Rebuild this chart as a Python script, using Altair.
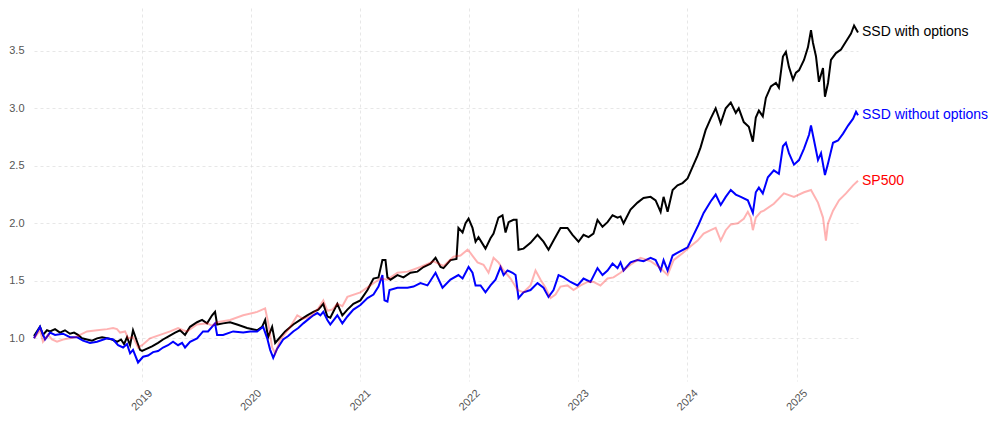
import altair as alt
import pandas as pd
import numpy as np

# ---------------- data (decimal years, cumulative growth) ----------------
black_t = [2018.012, 2018.067, 2018.094, 2018.131, 2018.159, 2018.205, 2018.25, 2018.296, 2018.342, 2018.379,
           2018.416, 2018.452, 2018.498, 2018.544, 2018.59, 2018.636, 2018.682, 2018.728, 2018.773, 2018.81,
           2018.838, 2018.865, 2018.893, 2018.92, 2018.939, 2018.957, 2018.984, 2019.003, 2019.049, 2019.094,
           2019.15, 2019.195, 2019.25, 2019.306, 2019.351, 2019.397, 2019.443, 2019.507, 2019.553, 2019.599,
           2019.645, 2019.672, 2019.691, 2019.746, 2019.81, 2019.874, 2019.966, 2020.058, 2020.103, 2020.131,
           2020.158, 2020.195, 2020.223, 2020.25, 2020.314, 2020.388, 2020.452, 2020.516, 2020.572, 2020.617,
           2020.663, 2020.7, 2020.727, 2020.791, 2020.837, 2020.883, 2020.938, 2021.002, 2021.067, 2021.122,
           2021.168, 2021.204, 2021.232, 2021.25, 2021.278, 2021.342, 2021.397, 2021.461, 2021.525, 2021.58,
           2021.645, 2021.691, 2021.737, 2021.764, 2021.828, 2021.883, 2021.901, 2021.939, 2021.966, 2021.994,
           2022.03, 2022.058, 2022.085, 2022.149, 2022.195, 2022.223, 2022.268, 2022.305, 2022.333, 2022.361,
           2022.406, 2022.434, 2022.452, 2022.498, 2022.562, 2022.626, 2022.681, 2022.727, 2022.773, 2022.837,
           2022.901, 2022.947, 2023.002, 2023.048, 2023.094, 2023.139, 2023.176, 2023.222, 2023.268, 2023.314,
           2023.36, 2023.387, 2023.415, 2023.479, 2023.543, 2023.598, 2023.663, 2023.709, 2023.755, 2023.782,
           2023.819, 2023.865, 2023.91, 2023.956, 2024.002, 2024.048, 2024.094, 2024.121, 2024.167, 2024.213,
           2024.259, 2024.305, 2024.351, 2024.397, 2024.443, 2024.47, 2024.516, 2024.562, 2024.599, 2024.626,
           2024.654, 2024.69, 2024.718, 2024.764, 2024.81, 2024.837, 2024.874, 2024.901, 2024.929, 2024.966,
           2024.993, 2025.021, 2025.067, 2025.103, 2025.131, 2025.149, 2025.177, 2025.204, 2025.241, 2025.259,
           2025.287, 2025.314, 2025.36, 2025.406, 2025.452, 2025.498, 2025.526, 2025.562]
black_v = [1.02, 1.10, 1.03, 1.07, 1.06, 1.08, 1.05, 1.07, 1.04, 1.05,
           1.03, 1.00, 0.99, 0.98, 1.00, 1.01, 1.00, 0.99, 0.97, 0.99,
           0.95, 1.01, 0.94, 1.07, 1.02, 0.97, 0.90, 0.89, 0.91, 0.93,
           0.96, 0.99, 1.02, 1.05, 1.07, 1.03, 1.10, 1.14, 1.16, 1.13,
           1.20, 1.23, 1.12, 1.13, 1.14, 1.12, 1.09, 1.07, 1.10, 1.16,
           1.01, 1.10, 0.96, 0.99, 1.06, 1.12, 1.16, 1.20, 1.23, 1.25,
           1.30, 1.19, 1.18, 1.30, 1.20, 1.25, 1.30, 1.33, 1.42, 1.52,
           1.53, 1.68, 1.68, 1.53, 1.51, 1.55, 1.53, 1.57, 1.58, 1.62,
           1.65, 1.70, 1.62, 1.61, 1.68, 1.69, 1.96, 1.92, 2.00, 2.04,
           1.96, 1.84, 1.88, 1.78, 1.87, 1.91, 2.05, 2.07, 1.92, 2.01,
           2.03, 2.03, 1.77, 1.78, 1.83, 1.90, 1.84, 1.77, 1.85, 1.96,
           1.96, 1.90, 1.84, 1.90, 1.88, 1.91, 2.03, 1.97, 2.01, 2.07,
           2.05, 2.06, 2.00, 2.12, 2.18, 2.22, 2.23, 2.20, 2.10, 2.23,
           2.10, 2.29, 2.33, 2.35, 2.39, 2.49, 2.59, 2.66, 2.81, 2.91,
           3.00, 2.87, 3.00, 3.05, 2.96, 3.00, 2.88, 2.84, 2.71, 2.92,
           2.98, 2.93, 3.09, 3.19, 3.22, 3.18, 3.45, 3.49, 3.36, 3.25,
           3.31, 3.33, 3.42, 3.53, 3.68, 3.57, 3.45, 3.23, 3.35, 3.10,
           3.22, 3.42, 3.48, 3.51, 3.58, 3.65, 3.72, 3.66]

blue_t = [2018.012, 2018.067, 2018.113, 2018.159, 2018.205, 2018.278, 2018.342, 2018.406, 2018.461, 2018.526,
          2018.59, 2018.682, 2018.737, 2018.783, 2018.829, 2018.865, 2018.893, 2018.92, 2018.966, 2019.012,
          2019.058, 2019.104, 2019.15, 2019.195, 2019.241, 2019.287, 2019.333, 2019.37, 2019.397, 2019.443,
          2019.507, 2019.562, 2019.608, 2019.672, 2019.691, 2019.746, 2019.838, 2019.93, 2019.994, 2020.058,
          2020.113, 2020.15, 2020.177, 2020.205, 2020.241, 2020.296, 2020.342, 2020.388, 2020.434, 2020.48,
          2020.544, 2020.572, 2020.608, 2020.636, 2020.663, 2020.7, 2020.727, 2020.791, 2020.837, 2020.883,
          2020.938, 2021.002, 2021.067, 2021.122, 2021.168, 2021.204, 2021.223, 2021.25, 2021.269, 2021.342,
          2021.434, 2021.489, 2021.553, 2021.617, 2021.691, 2021.755, 2021.828, 2021.901, 2021.939, 2021.994,
          2022.03, 2022.058, 2022.104, 2022.149, 2022.195, 2022.241, 2022.287, 2022.315, 2022.351, 2022.397,
          2022.425, 2022.452, 2022.498, 2022.562, 2022.626, 2022.681, 2022.727, 2022.773, 2022.819, 2022.865,
          2022.929, 2022.993, 2023.048, 2023.112, 2023.176, 2023.222, 2023.268, 2023.314, 2023.36, 2023.387,
          2023.415, 2023.479, 2023.543, 2023.598, 2023.663, 2023.709, 2023.755, 2023.782, 2023.819, 2023.865,
          2023.92, 2024.002, 2024.057, 2024.103, 2024.149, 2024.213, 2024.259, 2024.305, 2024.351, 2024.397,
          2024.443, 2024.489, 2024.553, 2024.599, 2024.626, 2024.654, 2024.69, 2024.736, 2024.791, 2024.837,
          2024.874, 2024.901, 2024.929, 2024.975, 2025.021, 2025.067, 2025.113, 2025.131, 2025.159, 2025.195,
          2025.223, 2025.259, 2025.287, 2025.333, 2025.379, 2025.425, 2025.471, 2025.517, 2025.544, 2025.562]
blue_v = [1.00, 1.10, 0.99, 1.05, 1.03, 1.04, 1.01, 1.01, 0.98, 0.96,
          0.97, 1.00, 0.99, 0.94, 0.92, 0.95, 0.87, 0.90, 0.79, 0.84,
          0.85, 0.88, 0.89, 0.92, 0.94, 0.97, 0.94, 0.96, 0.92, 0.97,
          1.00, 1.06, 1.06, 1.13, 1.03, 1.03, 1.06, 1.05, 1.06, 1.06,
          1.10, 1.00, 0.90, 0.83, 0.91, 0.99, 1.02, 1.06, 1.09, 1.13,
          1.18, 1.20, 1.22, 1.20, 1.23, 1.16, 1.12, 1.20, 1.13, 1.19,
          1.25, 1.29, 1.35, 1.38, 1.45, 1.55, 1.33, 1.32, 1.42, 1.44,
          1.44, 1.45, 1.48, 1.46, 1.57, 1.44, 1.51, 1.55, 1.52, 1.62,
          1.57, 1.46, 1.46, 1.40, 1.46, 1.51, 1.62, 1.55, 1.59, 1.57,
          1.55, 1.35, 1.40, 1.42, 1.48, 1.44, 1.36, 1.42, 1.55, 1.53,
          1.49, 1.46, 1.52, 1.49, 1.61, 1.55, 1.59, 1.65, 1.61, 1.66,
          1.59, 1.66, 1.68, 1.67, 1.70, 1.68, 1.59, 1.68, 1.59, 1.72,
          1.75, 1.79, 1.90, 1.99, 2.09, 2.19, 2.25, 2.16, 2.23, 2.29,
          2.25, 2.23, 2.20, 2.09, 2.27, 2.31, 2.26, 2.40, 2.46, 2.43,
          2.67, 2.70, 2.61, 2.51, 2.55, 2.65, 2.77, 2.85, 2.72, 2.55,
          2.61, 2.42, 2.52, 2.70, 2.72, 2.78, 2.85, 2.91, 2.97, 2.94]

sp_t = [2018.012, 2018.067, 2018.094, 2018.14, 2018.177, 2018.223, 2018.278, 2018.342, 2018.388, 2018.434,
        2018.498, 2018.59, 2018.682, 2018.737, 2018.773, 2018.801, 2018.847, 2018.875, 2018.92, 2018.966,
        2019.003, 2019.076, 2019.168, 2019.26, 2019.333, 2019.379, 2019.415, 2019.461, 2019.507, 2019.599,
        2019.645, 2019.691, 2019.81, 2019.93, 2020.058, 2020.131, 2020.158, 2020.195, 2020.223, 2020.269,
        2020.314, 2020.361, 2020.425, 2020.48, 2020.544, 2020.617, 2020.663, 2020.7, 2020.746, 2020.791,
        2020.837, 2020.883, 2021.002, 2021.094, 2021.186, 2021.25, 2021.342, 2021.434, 2021.553, 2021.672,
        2021.764, 2021.856, 2021.92, 2021.985, 2022.012, 2022.076, 2022.131, 2022.177, 2022.223, 2022.268,
        2022.315, 2022.379, 2022.443, 2022.498, 2022.562, 2022.608, 2022.654, 2022.7, 2022.746, 2022.791,
        2022.837, 2022.901, 2022.956, 2023.021, 2023.085, 2023.139, 2023.203, 2023.268, 2023.323, 2023.387,
        2023.479, 2023.571, 2023.663, 2023.755, 2023.819, 2023.874, 2023.956, 2024.03, 2024.094, 2024.149,
        2024.213, 2024.259, 2024.305, 2024.351, 2024.397, 2024.461, 2024.516, 2024.553, 2024.58, 2024.599,
        2024.626, 2024.672, 2024.7, 2024.791, 2024.883, 2024.975, 2025.067, 2025.131, 2025.195, 2025.241,
        2025.268, 2025.287, 2025.333, 2025.388, 2025.452, 2025.517, 2025.562]
sp_v = [1.00, 1.07, 0.97, 1.03, 0.99, 0.97, 0.99, 1.00, 1.01, 1.03,
        1.06, 1.07, 1.08, 1.09, 1.08, 1.05, 1.06, 1.00, 1.01, 0.92,
        0.94, 1.00, 1.03, 1.06, 1.09, 1.07, 1.06, 1.09, 1.12, 1.13,
        1.11, 1.14, 1.16, 1.20, 1.23, 1.26, 1.14, 0.92, 0.87, 0.99,
        1.04, 1.10, 1.20, 1.17, 1.19, 1.26, 1.33, 1.24, 1.25, 1.30,
        1.28, 1.36, 1.40, 1.46, 1.52, 1.51, 1.57, 1.58, 1.62, 1.67,
        1.63, 1.71, 1.72, 1.77, 1.74, 1.66, 1.64, 1.57, 1.70, 1.66,
        1.59, 1.52, 1.42, 1.40, 1.46, 1.59, 1.51, 1.44, 1.35, 1.38,
        1.45, 1.46, 1.42, 1.46, 1.49, 1.49, 1.46, 1.52, 1.53, 1.57,
        1.64, 1.70, 1.67, 1.61, 1.55, 1.68, 1.74, 1.80, 1.85, 1.91,
        1.94, 1.96, 1.85, 1.94, 1.99, 2.00, 2.04, 2.10, 2.05, 1.94,
        2.05, 2.10, 2.11, 2.17, 2.26, 2.23, 2.27, 2.29, 2.18, 2.05,
        1.85, 2.00, 2.11, 2.20, 2.26, 2.33, 2.37]

series_names = ["SSD with options", "SSD without options", "SP500"]
line_colors = ["#000000", "#0000FF", "#FF0000"]
year_ticks = [2019, 2020, 2021, 2022, 2023, 2024, 2025]
y_ticks = [1.0, 1.5, 2.0, 2.5, 3.0, 3.5]


def to_ts(years):
    out = []
    for y in years:
        yi = int(np.floor(y))
        start = pd.Timestamp(year=yi, month=1, day=1)
        end = pd.Timestamp(year=yi + 1, month=1, day=1)
        out.append(start + (end - start) * (y - yi))
    return out


frames = []
for name, t, v in zip(series_names, [black_t, blue_t, sp_t], [black_v, blue_v, sp_v]):
    frames.append(pd.DataFrame({"date": to_ts(t), "value": v, "series": name}))
df = pd.concat(frames, ignore_index=True)
last = df.groupby("series", sort=False).tail(1).reset_index(drop=True)

FONT = "Liberation Sans"

x_enc = alt.X("date:T",
              scale=alt.Scale(nice=False),
              axis=alt.Axis(values=[alt.DateTime(year=y, month=1, date=1) for y in year_ticks],
                            format="%Y", title=None, labelAngle=-45, labelAlign="center",
                            labelBaseline="middle", labelPadding=19, ticks=False, tickSize=0,
                            domain=False, grid=True, gridColor="#dcdcdc", gridDash=[3, 3],
                            gridWidth=0.7, labelColor="#555555", labelFontSize=11, labelFont=FONT))
y_enc = alt.Y("value:Q",
              scale=alt.Scale(domain=[0.629, 3.872], nice=False, zero=False),
              axis=alt.Axis(values=y_ticks, format=".1f", title=None, ticks=False, tickSize=0,
                            domain=False, grid=True, gridColor="#dcdcdc", gridDash=[3, 3],
                            gridWidth=0.7, labelColor="#555555", labelFontSize=11, labelFont=FONT,
                            labelPadding=10))

base = alt.Chart(df)
layers = []
opac = [1.0, 1.0, 0.3]
for name, col, op in zip(series_names, line_colors, opac):
    layers.append(
        base.transform_filter(alt.datum.series == name)
        .mark_line(color=col, strokeWidth=2, opacity=op, interpolate="linear")
        .encode(x=x_enc, y=y_enc)
    )

labels = alt.Chart(last).mark_text(align="left", baseline="middle", dx=4, fontSize=14, font=FONT).encode(
    x="date:T", y="value:Q",
    text="series:N",
    color=alt.Color("series:N", scale=alt.Scale(domain=series_names, range=line_colors), legend=None),
)

chart = alt.layer(*layers, labels).properties(
    width=824, height=373,
    autosize=alt.AutoSizeParams(type="none"),
    padding={"left": 26, "top": 0, "right": 130, "bottom": 40},
).configure_view(stroke=None)

chart.save("out.html", embed_options={"renderer": "svg", "actions": False})
